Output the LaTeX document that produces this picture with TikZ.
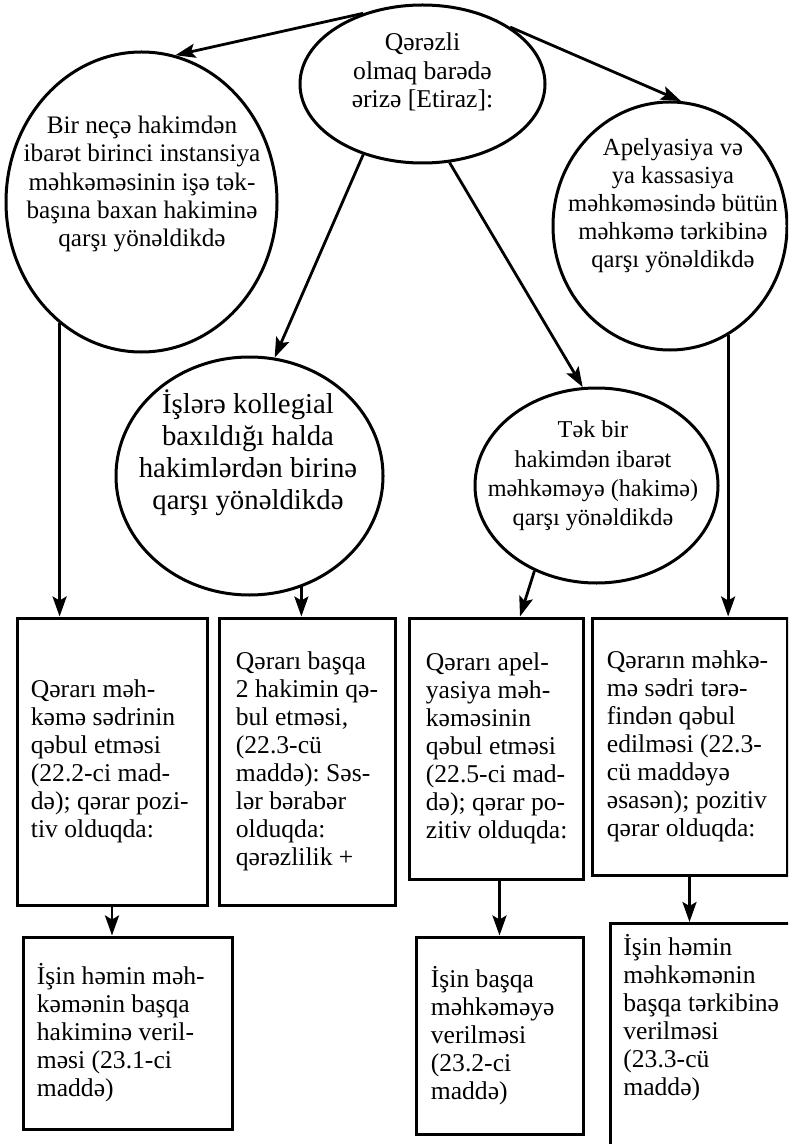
\documentclass[tikz,border=0pt]{standalone}
\usepackage{fontspec}
\setmainfont{Liberation Serif}
\usepackage{tikz}
\usetikzlibrary{shapes.geometric,arrows.meta,positioning,calc}
\frenchspacing

\tikzset{
    oval/.style={draw, ellipse, line width=1.5pt, inner sep=0pt},
    ovaltext/.style={align=center, inner sep=0pt, font=\fontsize{12.8}{14.4}\selectfont},
    box/.style={draw, rectangle, line width=1.5pt, inner sep=0pt},
    boxtext/.style={align=left, inner sep=0pt, font=\fontsize{12.8}{14}\selectfont},
    arr/.style={line width=1.4pt, -{Stealth[length=10pt,width=7pt,inset=2pt]}}
}

\begin{document}
\begin{tikzpicture}[x=0.5pt, y=-0.5pt]
    \useasboundingbox (0,0) rectangle (788,1144);
    \clip (0,0) rectangle (788,1144);

    % top oval
    \node[oval, minimum width=122.5pt, minimum height=79pt] (claim) at (422.5,84) {};
    \node[ovaltext] (claimtxt) at (422.5,72) {Qərəzli\\olmaq barədə\\ərizə [Etiraz]:};

    % the four cases
    \node[oval, minimum width=135.5pt, minimum height=150pt] (single) at (141.5,202) {};
    \node[ovaltext, font=\fontsize{12.6}{14.2}\selectfont] (singletxt) at (142,184) {Bir neçə hakimdən\\ibarət birinci instansiya\\məhkəməsinin işə tək-\\başına baxan hakiminə\\qarşı yönəldikdə};
    \node[oval, minimum width=117pt, minimum height=124pt] (whole) at (670,226) {};
    \node[ovaltext, font=\fontsize{12.3}{14}\selectfont] (wholetxt) at (673,206) {Apelyasiya və\\ya kassasiya\\məhkəməsində bütün\\məhkəmə tərkibinə\\qarşı yönəldikdə};
    \node[oval, minimum width=133.5pt, minimum height=119pt] (panel) at (249.5,476) {};
    \node[ovaltext, font=\fontsize{14.4}{16}\selectfont] (paneltxt) at (248,453) {İşlərə kollegial\\baxıldığı halda\\hakimlərdən birinə\\qarşı yönəldikdə};
    \node[oval, minimum width=121.5pt, minimum height=97.5pt] (sole) at (596.5,485.5) {};
    \node[ovaltext, font=\fontsize{12.1}{14.6}\selectfont] (soletxt) at (593,476) {Tək bir\\hakimdən ibarət\\məhkəməyə (hakimə)\\qarşı yönəldikdə};

    % decisions
    \node[box, minimum width=95pt, minimum height=143.5pt] (b1) at (112,761.5) {};
    \node[boxtext, right=7.5pt of b1.west] (b1txt) {Qərarı məh-\\kəmə sədrinin\\qəbul etməsi\\(22.2-ci mad-\\də); qərar pozi-\\tiv olduqda:};
    \node[box, minimum width=88pt, minimum height=143.5pt] (b2) at (307,761.5) {};
    \node[boxtext, right=9pt of b2.west] (b2txt) {Qərarı başqa\\2 hakimin qə-\\bul etməsi,\\(22.3-cü\\maddə): Səs-\\lər bərabər\\olduqda:\\qərəzlilik +};
    \node[box, minimum width=87pt, minimum height=130.5pt] (b3) at (496,748.5) {};
    \node[boxtext, right=9pt of b3.west] (b3txt) {Qərarı apel-\\yasiya məh-\\kəməsinin\\qəbul etməsi\\(22.5-ci mad-\\də); qərar po-\\zitiv olduqda:};
    \node[box, minimum width=97.5pt, minimum height=128.5pt] (b4) at (689.5,746.5) {};
    \node[boxtext, right=8pt of b4.west] (b4txt) {Qərarın məhkə-\\mə sədri tərə-\\findən qəbul\\edilməsi (22.3-\\cü maddəyə\\əsasən); pozitiv\\qərar olduqda:};

    % results
    \node[box, minimum width=104.5pt, minimum height=96pt] (b5) at (127.5,1033) {};
    \node[boxtext, right=7.5pt of b5.west] (b5txt) {İşin həmin məh-\\kəmənin başqa\\hakiminə veril-\\məsi (23.1-ci\\maddə)};
    \node[box, minimum width=83.5pt, minimum height=98.5pt] (b6) at (499.5,1035.5) {};
    \node[boxtext, right=8pt of b6.west] (b6txt) {İşin başqa\\məhkəməyə\\verilməsi\\(23.2-ci\\maddə)};
    \node[box, anchor=north west, minimum width=100pt, minimum height=140pt] (b7) at (609,922) {};
    \node[boxtext, below right=6pt and 7pt of b7.north west] (b7txt) {İşin həmin\\məhkəmənin\\başqa tərkibinə\\verilməsi\\(23.3-cü\\maddə)};

    % arrows
    \draw[arr] (claim.130) -- (single.77);
    \draw[arr] (claim.33) -- (whole.85);
    \draw[arr] (claim.230) -- (panel.78);
    \draw[arr] (claim.289) -- (sole.98);

    \draw[arr] (single.236) -- (single.236 |- b1.north);
    \draw[arr] (panel.295) -- (panel.295 |- b2.north);
    \draw[arr] (sole.234) -- ($(b3.north)+(24,0)$);
    \draw[arr] (whole.298) -- (whole.298 |- b4.north);

    \draw[arr] (b1.south) -- (b1.south |- b5.north);
    \draw[arr] (b6.north |- b3.south) -- (b6.north);
    \draw[arr] (b4.south) -- (b4.south |- b7.north);
\end{tikzpicture}
\end{document}
